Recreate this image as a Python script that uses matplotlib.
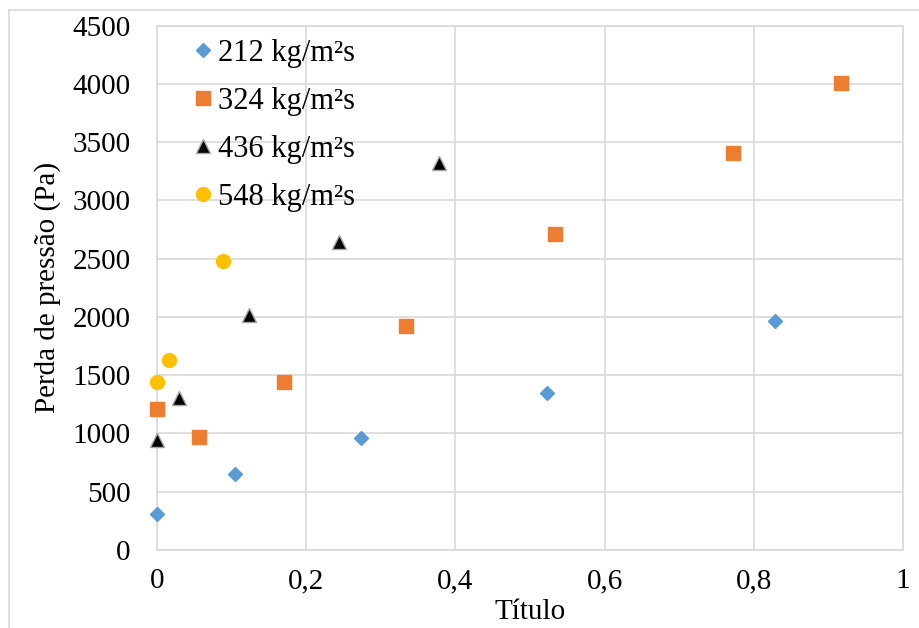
import matplotlib
matplotlib.use("Agg")
import matplotlib.pyplot as plt
from matplotlib.lines import Line2D

# pressure drop vs vapour quality, one series per mass flux
x_212 = [0.0, 0.105, 0.273, 0.523, 0.829]
y_212 = [310, 654, 957, 1349, 1963]

x_324 = [0.0, 0.056, 0.170, 0.334, 0.534, 0.772, 0.917]
y_324 = [1206, 971, 1440, 1926, 2714, 3406, 4010]

x_436 = [0.0, 0.0295, 0.123, 0.244, 0.378]
y_436 = [940, 1303, 2020, 2640, 3320]

x_548 = [0.0, 0.0157, 0.089]
y_548 = [1440, 1629, 2483]

labels = ["212 kg/m²s", "324 kg/m²s", "436 kg/m²s", "548 kg/m²s"]
x_ticks = [0, 0.2, 0.4, 0.6, 0.8, 1.0]
x_ticklabels = ["0", "0,2", "0,4", "0,6", "0,8", "1"]
y_ticks = list(range(0, 4501, 500))

plt.rcParams["font.family"] = ["Liberation Serif", "DejaVu Serif"]
FS = 21
GRID = "#d9d9d9"

fig = plt.figure(figsize=(9.19, 6.28), dpi=100)
ax = fig.add_axes([157 / 919, 1 - 550 / 628, 746 / 919, 524.3 / 628])

# chart area border (only left/top edges fall inside the image)
fig.add_artist(Line2D([9 / 919, 9 / 919], [0, 1 - 10 / 628], transform=fig.transFigure,
                      color=GRID, lw=1.2))
fig.add_artist(Line2D([9 / 919, 1], [1 - 10 / 628, 1 - 10 / 628], transform=fig.transFigure,
                      color=GRID, lw=1.2))

ax.plot(x_212, y_212, ls="none", marker="D", ms=7.3, color="#5b9bd5",
        mec="#5b9bd5", label=labels[0], clip_on=False, zorder=3)
ax.plot(x_324, y_324, ls="none", marker="s", ms=10, color="#ed7d31",
        mec="#ed7d31", label=labels[1], clip_on=False, zorder=3)
ax.plot(x_436, y_436, ls="none", marker="^", ms=9.5, color="black",
        mec="#a5a5a5", mew=1.0, label=labels[2], clip_on=False, zorder=3)
ax.plot(x_548, y_548, ls="none", marker="o", ms=10, color="#ffc000",
        mec="#ffc000", label=labels[3], clip_on=False, zorder=3)

ax.set_xlim(0, 1)
ax.set_ylim(0, 4500)
ax.set_xticks(x_ticks)
ax.set_xticklabels(x_ticklabels)
ax.set_yticks(y_ticks)
ax.tick_params(axis="both", length=0, labelsize=FS)
ax.tick_params(axis="x", pad=13)
ax.tick_params(axis="y", pad=19)

ax.grid(True, color=GRID, lw=1.2)
ax.set_axisbelow(True)
for sp in ax.spines.values():
    sp.set_color(GRID)
    sp.set_linewidth(1.2)

ax.set_xlabel("Título", fontsize=FS)
ax.xaxis.set_label_coords(0.5, -0.093)
ax.set_ylabel("Perda de pressão (Pa)", fontsize=FS)
ax.yaxis.set_label_coords(-0.129, 0.5)

ax.legend(loc="upper left", bbox_to_anchor=((194 - 157) / 746, (550 - 39) / 524.3),
          frameon=False, fontsize=22, handlelength=0.6, handletextpad=0.2,
          labelspacing=0.62, borderpad=0, borderaxespad=0, numpoints=1)

fig.savefig("out.png", dpi=100)
